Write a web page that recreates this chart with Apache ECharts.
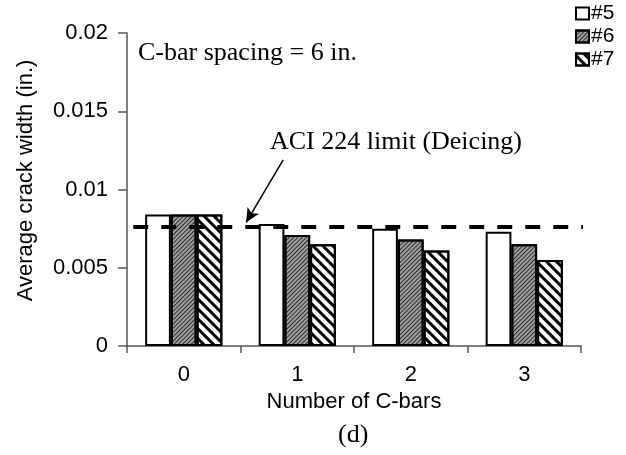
<!DOCTYPE html>
<html>
<head>
<meta charset="utf-8">
<script src="https://cdn.jsdelivr.net/npm/echarts@6/dist/echarts.min.js"></script>
<style>
  html, body { margin: 0; padding: 0; background: #fff; }
  #chart { width: 626px; height: 455px; }
</style>
</head>
<body>
<div id="chart"></div>
<script>
// Number of C-bars on the category axis
const categories = ['0', '1', '2', '3'];
const yTicks = [0, 0.005, 0.01, 0.015, 0.02];

// Average crack width (in.) for each bar size
const bar5 = [0.0084, 0.0078, 0.0075, 0.0073];
const bar6 = [0.0084, 0.0071, 0.0068, 0.0065];
const bar7 = [0.0084, 0.0065, 0.0061, 0.0055];

// ACI 224 crack width limit for deicing exposure
const aciLimit = 0.0076;
// Horizontal span of the limit line, in category units (0..4)
const limitSpan = [0.055, 4.08];
// Arrow pointing from the label down to the limit line
const arrowFrom = [1.376, 0.0119];
const arrowTo = [1.05, 0.0079];

const sans = 'Liberation Sans, Arial, sans-serif';
const serif = 'Liberation Serif, Times New Roman, serif';

const chart = echarts.init(document.getElementById('chart'), null, { renderer: 'canvas' });

const barBase = {
  type: 'bar',
  xAxisIndex: 0,
  yAxisIndex: 0,
  barGap: '0%',
  barCategoryGap: '32%',
  z: 2
};

chart.setOption({
  animation: false,
  backgroundColor: '#ffffff',
  grid: { left: 127, right: 45, top: 33, bottom: 109, containLabel: false },
  legend: {
    orient: 'vertical',
    left: 570,
    top: -2,
    icon: 'rect',
    itemWidth: 13,
    itemHeight: 12,
    itemGap: 2,
    textStyle: { fontFamily: sans, fontSize: 21, color: '#000', padding: [0, 0, 0, -3] },
    data: ['#5', '#6', '#7']
  },
  xAxis: [
    {
      type: 'category',
      data: categories,
      name: 'Number of C-bars',
      nameLocation: 'middle',
      nameGap: 44,
      nameTextStyle: { fontFamily: sans, fontSize: 22, color: '#000' },
      axisLine: { lineStyle: { color: '#555', width: 1.5 } },
      axisTick: { show: true, length: 7, inside: false, lineStyle: { color: '#555', width: 1.5 } },
      axisLabel: { fontFamily: sans, fontSize: 22, color: '#000', margin: 18 },
      splitLine: { show: false }
    },
    {
      type: 'value',
      min: 0,
      max: 4,
      show: false
    }
  ],
  yAxis: {
    type: 'value',
    min: yTicks[0],
    max: yTicks[yTicks.length - 1],
    interval: yTicks[1] - yTicks[0],
    name: 'Average crack width (in.)',
    nameLocation: 'middle',
    nameGap: 90,
    nameTextStyle: { fontFamily: sans, fontSize: 22, color: '#000', padding: [0, 0, 0, 18] },
    axisLine: { show: true, lineStyle: { color: '#555', width: 1.5 } },
    axisTick: { show: true, length: 9, inside: false, lineStyle: { color: '#555', width: 1.5 } },
    axisLabel: {
      fontFamily: sans, fontSize: 22, color: '#000', margin: 19,
      formatter: v => String(parseFloat(v.toFixed(4)))
    },
    splitLine: { show: false }
  },
  series: [
    Object.assign({}, barBase, {
      name: '#5',
      data: bar5,
      itemStyle: { color: '#ffffff', borderColor: '#000', borderWidth: 2 }
    }),
    Object.assign({}, barBase, {
      name: '#6',
      data: bar6,
      itemStyle: {
        color: '#a0a0a0',
        borderColor: '#000',
        borderWidth: 2,
        decal: {
          symbol: 'rect',
          symbolSize: 1,
          color: '#2a2a2a',
          dashArrayX: [1, 0],
          dashArrayY: [1, 2],
          rotation: -Math.PI / 4
        }
      }
    }),
    Object.assign({}, barBase, {
      name: '#7',
      data: bar7,
      itemStyle: {
        color: '#ffffff',
        borderColor: '#000',
        borderWidth: 2,
        decal: {
          symbol: 'rect',
          symbolSize: 1,
          color: '#000000',
          dashArrayX: [1, 0],
          dashArrayY: [3, 4],
          rotation: Math.PI / 4
        }
      }
    }),
    {
      type: 'line',
      name: 'ACI 224 limit',
      xAxisIndex: 1,
      yAxisIndex: 0,
      clip: false,
      symbol: 'none',
      z: 5,
      silent: true,
      data: [[limitSpan[0], aciLimit], [limitSpan[1], aciLimit]],
      lineStyle: { color: '#000', width: 4, type: [15, 13] },
      markLine: {
        silent: true,
        symbol: ['none', 'arrow'],
        symbolSize: [10, 14],
        label: { show: false },
        lineStyle: { color: '#000', width: 1.5, type: 'solid' },
        data: [[{ coord: arrowFrom }, { coord: arrowTo }]]
      }
    }
  ],
  graphic: [
    {
      type: 'text', left: 138, top: 40,
      style: { text: 'C-bar spacing = 6 in.', font: '26px ' + serif, fill: '#000' }
    },
    {
      type: 'text', left: 270, top: 129,
      style: { text: 'ACI 224 limit (Deicing)', font: '26px ' + serif, fill: '#000' }
    },
    {
      type: 'text', left: 338, top: 422,
      style: { text: '(d)', font: '26px ' + serif, fill: '#000' }
    }
  ]
});
</script>
</body>
</html>
